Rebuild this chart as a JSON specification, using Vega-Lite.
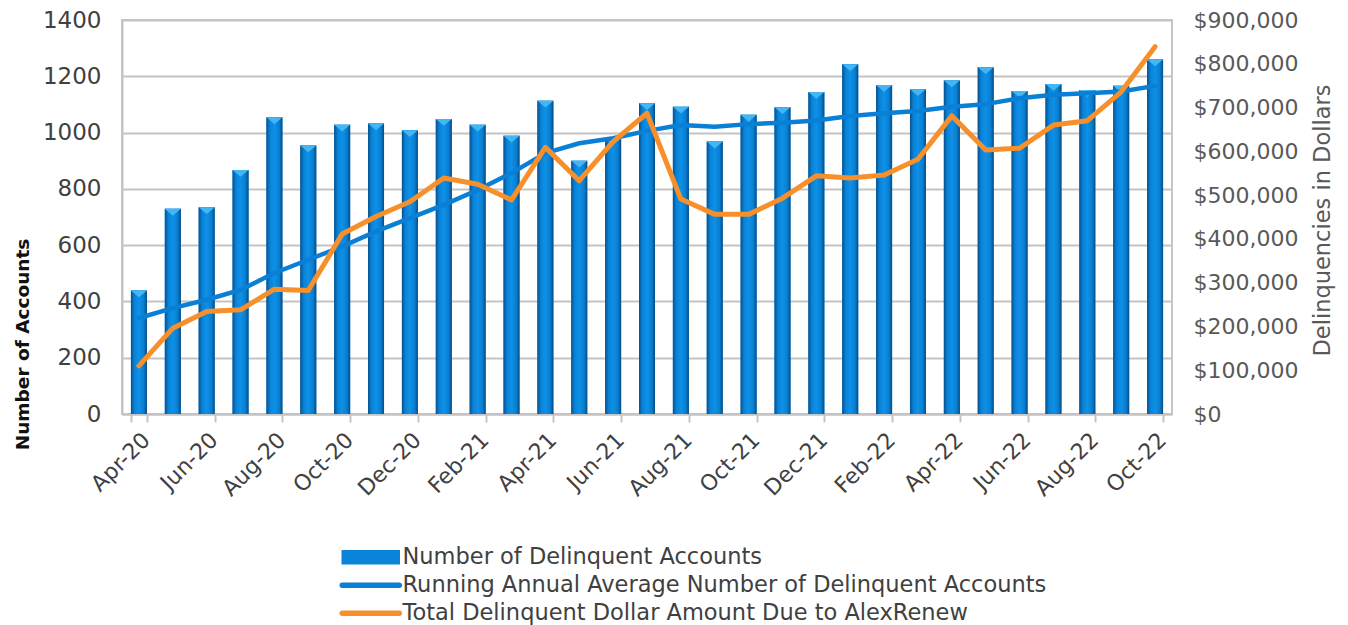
{
  "$schema": "https://vega.github.io/schema/vega-lite/v6.json",
  "width": 1050,
  "height": 394,
  "autosize": {"type": "none"},
  "padding": {"left": 122, "top": 20, "right": 176, "bottom": 211},
  "background": "white",
  "config": {
    "font": "DejaVu Sans",
    "view": {"stroke": "#c4c4c4", "strokeWidth": 2}
  },
  "data": {
    "values": [
      {"month": "Apr-20", "accounts": 439, "avg": 341, "dollars": 110000},
      {"month": "May-20", "accounts": 729, "avg": 376, "dollars": 196000},
      {"month": "Jun-20", "accounts": 735, "avg": 406, "dollars": 234000},
      {"month": "Jul-20", "accounts": 867, "avg": 441, "dollars": 238000},
      {"month": "Aug-20", "accounts": 1054, "avg": 501, "dollars": 285000},
      {"month": "Sep-20", "accounts": 954, "avg": 548, "dollars": 282000},
      {"month": "Oct-20", "accounts": 1028, "avg": 595, "dollars": 411000},
      {"month": "Nov-20", "accounts": 1032, "avg": 649, "dollars": 451000},
      {"month": "Dec-20", "accounts": 1008, "avg": 696, "dollars": 485000},
      {"month": "Jan-21", "accounts": 1048, "avg": 743, "dollars": 539000},
      {"month": "Feb-21", "accounts": 1028, "avg": 796, "dollars": 525000},
      {"month": "Mar-21", "accounts": 989, "avg": 856, "dollars": 489000},
      {"month": "Apr-21", "accounts": 1113, "avg": 927, "dollars": 609000},
      {"month": "May-21", "accounts": 900, "avg": 962, "dollars": 533000},
      {"month": "Jun-21", "accounts": 980, "avg": 980, "dollars": 622000},
      {"month": "Jul-21", "accounts": 1104, "avg": 1006, "dollars": 687000},
      {"month": "Aug-21", "accounts": 1092, "avg": 1027, "dollars": 491000},
      {"month": "Sep-21", "accounts": 968, "avg": 1021, "dollars": 456000},
      {"month": "Oct-21", "accounts": 1063, "avg": 1030, "dollars": 456000},
      {"month": "Nov-21", "accounts": 1090, "avg": 1035, "dollars": 493000},
      {"month": "Dec-21", "accounts": 1144, "avg": 1043, "dollars": 544000},
      {"month": "Jan-22", "accounts": 1243, "avg": 1059, "dollars": 539000},
      {"month": "Feb-22", "accounts": 1169, "avg": 1069, "dollars": 546000},
      {"month": "Mar-22", "accounts": 1154, "avg": 1077, "dollars": 582000},
      {"month": "Apr-22", "accounts": 1185, "avg": 1092, "dollars": 681000},
      {"month": "May-22", "accounts": 1232, "avg": 1101, "dollars": 603000},
      {"month": "Jun-22", "accounts": 1148, "avg": 1122, "dollars": 607000},
      {"month": "Jul-22", "accounts": 1173, "avg": 1134, "dollars": 660000},
      {"month": "Aug-22", "accounts": 1151, "avg": 1140, "dollars": 670000},
      {"month": "Sep-22", "accounts": 1166, "avg": 1146, "dollars": 736000},
      {"month": "Oct-22", "accounts": 1260, "avg": 1166, "dollars": 839000}
    ]
  },
  "encoding": {
    "x": {
      "field": "month",
      "type": "ordinal",
      "sort": null,
      "scale": {"paddingInner": 0.53, "paddingOuter": 0.265},
      "axis": {
        "title": null,
        "values": ["Apr-20", "Jun-20", "Aug-20", "Oct-20", "Dec-20", "Feb-21", "Apr-21", "Jun-21", "Aug-21", "Oct-21", "Dec-21", "Feb-22", "Apr-22", "Jun-22", "Aug-22", "Oct-22"],
        "labelAngle": -45,
        "labelFontSize": 22,
        "labelColor": "#404040",
        "labelPadding": 7,
        "tickBand": "extent",
        "tickSize": 8,
        "tickColor": "#c4c4c4",
        "tickWidth": 2,
        "domainColor": "#c4c4c4",
        "domainWidth": 2,
        "grid": false
      }
    }
  },
  "layer": [
    {
      "mark": {"type": "bar", "size": 16},
      "encoding": {
        "y": {
          "field": "accounts",
          "type": "quantitative",
          "scale": {"domain": [0, 1400], "nice": false},
          "axis": {
            "values": [0, 200, 400, 600, 800, 1000, 1200, 1400],
            "format": "d",
            "grid": true,
            "gridColor": "#c4c4c4",
            "gridWidth": 2,
            "domainColor": "#c4c4c4",
            "domainWidth": 2,
            "tickSize": 0,
            "labelPadding": 21,
            "labelFontSize": 23,
            "labelColor": "#404040",
            "title": "Number of Accounts",
            "titleFontSize": 18.5,
            "titleFontWeight": "bold",
            "titleColor": "#111111",
            "titleAngle": 270,
            "titleX": -100,
            "titleY": 324,
            "titleBaseline": "middle",
            "titleAlign": "center"
          }
        },
        "color": {
          "datum": "Number of Delinquent Accounts",
          "type": "nominal",
          "scale": {
            "domain": ["Number of Delinquent Accounts", "Running Annual Average Number of Delinquent Accounts", "Total Delinquent Dollar Amount Due to AlexRenew"],
            "range": ["#0a84d8", "#0a7fd6", "#f7902b"]
          },
          "legend": {
            "orient": "none",
            "legendX": 237.5,
            "legendY": 526,
            "direction": "vertical",
            "title": null,
            "padding": 0,
            "labelFontSize": 22.5,
            "labelColor": "#404040",
            "labelLimit": 900,
            "labelOffset": 20.5,
            "rowPadding": 5,
            "symbolSize": 3249,
            "encode": {
              "symbols": {
                "update": {
                  "shape": {"signal": "datum.value === 'Number of Delinquent Accounts' ? 'M-1,-0.23H1V0.23H-1Z' : 'stroke'"},
                  "fill": {"signal": "datum.value === 'Number of Delinquent Accounts' ? '#0a84d8' : 'transparent'"},
                  "stroke": {"signal": "datum.value === 'Number of Delinquent Accounts' ? '#075a9c' : (datum.value === 'Running Annual Average Number of Delinquent Accounts' ? '#0a7fd6' : '#f7902b')"},
                  "strokeWidth": {"signal": "datum.value === 'Number of Delinquent Accounts' ? 1.5 : 5.5"},
                  "strokeCap": {"value": "round"},
                  "size": {"value": 3249},
                  "opacity": {"value": 1},
                  "fillOpacity": {"value": 1},
                  "strokeOpacity": {"value": 1}
                }
              }
            }
          }
        }
      }
    },
    {
      "mark": {
        "type": "bar",
        "size": 16,
        "fill": {
          "gradient": "linear",
          "x1": 0, "y1": 0, "x2": 1, "y2": 0,
          "stops": [
            {"offset": 0, "color": "#06518f"},
            {"offset": 0.22, "color": "#0a82d6"},
            {"offset": 0.5, "color": "#0d91e8"},
            {"offset": 0.8, "color": "#0a7ecf"},
            {"offset": 1, "color": "#054b86"}
          ]
        }
      },
      "encoding": {
        "y": {"field": "accounts", "type": "quantitative", "scale": {"domain": [0, 1400], "nice": false}, "axis": null}
      }
    },
    {
      "mark": {"type": "point", "shape": "M-1,0L1,0L0,0.85Z", "size": 256, "filled": true, "color": "#43b6f3", "opacity": 1},
      "encoding": {
        "y": {"field": "accounts", "type": "quantitative", "scale": {"domain": [0, 1400], "nice": false}, "axis": null}
      }
    },
    {
      "mark": {"type": "line", "strokeWidth": 4.5, "strokeCap": "round", "strokeJoin": "round"},
      "encoding": {
        "y": {"field": "avg", "type": "quantitative", "scale": {"domain": [0, 1400], "nice": false}, "axis": null},
        "color": {
          "datum": "Running Annual Average Number of Delinquent Accounts",
          "type": "nominal",
          "legend": {
            "orient": "none",
            "legendX": 237.5,
            "legendY": 526,
            "direction": "vertical",
            "title": null,
            "padding": 0,
            "labelFontSize": 22.5,
            "labelColor": "#404040",
            "labelLimit": 900,
            "labelOffset": 20.5,
            "rowPadding": 5,
            "symbolSize": 3249
          }
        }
      }
    },
    {
      "mark": {"type": "line", "strokeWidth": 5, "strokeCap": "round", "strokeJoin": "round"},
      "encoding": {
        "y": {
          "field": "dollars",
          "type": "quantitative",
          "scale": {"domain": [0, 900000], "nice": false},
          "axis": {
            "orient": "right",
            "values": [0, 100000, 200000, 300000, 400000, 500000, 600000, 700000, 800000, 900000],
            "format": "$,.0f",
            "grid": false,
            "domain": false,
            "tickSize": 0,
            "labelPadding": 21,
            "labelFontSize": 22,
            "labelColor": "#595959",
            "title": "Delinquencies in Dollars",
            "titleFontSize": 22.5,
            "titleFontWeight": "normal",
            "titleColor": "#595959",
            "titleAngle": 270,
            "titleX": 150,
            "titleY": 200,
            "titleBaseline": "middle",
            "titleAlign": "center"
          }
        },
        "color": {
          "datum": "Total Delinquent Dollar Amount Due to AlexRenew",
          "type": "nominal",
          "legend": {
            "orient": "none",
            "legendX": 237.5,
            "legendY": 526,
            "direction": "vertical",
            "title": null,
            "padding": 0,
            "labelFontSize": 22.5,
            "labelColor": "#404040",
            "labelLimit": 900,
            "labelOffset": 20.5,
            "rowPadding": 5,
            "symbolSize": 3249
          }
        }
      }
    }
  ],
  "resolve": {"scale": {"y": "independent", "color": "shared"}}
}
